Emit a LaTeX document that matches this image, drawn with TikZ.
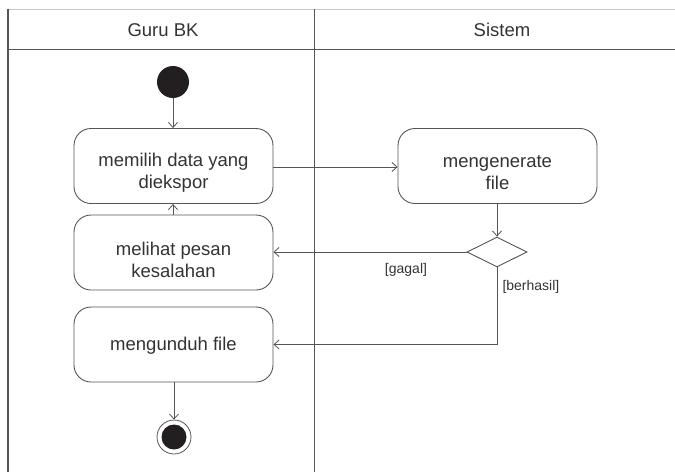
\documentclass[tikz,border=0pt]{standalone}
\usepackage{fontspec}
\setmainfont{Liberation Sans}
\usetikzlibrary{shapes.geometric,arrows.meta}
\definecolor{linegray}{HTML}{555555}
\definecolor{textgray}{HTML}{333333}
\definecolor{framegray}{HTML}{C8C8C8}
\definecolor{dotfill}{HTML}{231F20}
\begin{document}
\begin{tikzpicture}[x=1pt,y=-1pt,
  every node/.style={text=textgray},
  action/.style={draw=linegray, line width=0.9pt, rounded corners=17pt,
    minimum width=199pt, minimum height=75pt},
  actiontext/.style={align=center, inner sep=0pt,
    font=\fontsize{18.5}{22}\selectfont},
  lanetitle/.style={font=\fontsize{18.5}{21}\selectfont},
  guard/.style={font=\fontsize{14}{16}\selectfont},
  startdot/.style={circle, fill=dotfill, minimum size=32pt, inner sep=0pt},
  enddot/.style={circle, draw=linegray, line width=0.8pt, fill=white,
    minimum size=34pt, inner sep=0pt,
    path picture={\fill[dotfill] (path picture bounding box.center) circle (12.5pt);}},
  choice/.style={diamond, draw=linegray, line width=0.9pt, fill=white,
    minimum width=60pt, minimum height=30pt, inner sep=0pt},
  flow/.style={draw=linegray, line width=0.8pt,
    -{Straight Barb[length=5pt,width=9pt,line width=0.8pt]}},
]
\useasboundingbox (0,0) rectangle (675,472);

% swimlane frame
\draw[framegray, line width=0.8pt] (8,9) -- (675,9);
\draw[linegray, line width=1.4pt] (8,9) -- (8,472);
\draw[linegray, line width=0.9pt] (314,9) -- (314,472);
\draw[linegray, line width=1.2pt] (8,49.5) -- (675,49.5);
\node[lanetitle] (laneA) at (163,30) {Guru BK};
\node[lanetitle] (laneB) at (502,30) {Sistem};

% activities
\node[startdot] (start) at (173,82) {};
\node[action] (pick) at (173.5,166) {};
\node[actiontext] (pickText) at (173.5,173) {memilih data yang\\diekspor};
\node[action] (err) at (173.5,252.5) {};
\node[actiontext] (errText) at (173.5,259.5) {melihat pesan\\kesalahan};
\node[action] (dl) at (173.5,344.5) {};
\node[actiontext] (dlText) at (173.5,345.5) {mengunduh file};
\node[enddot] (stop) at (174,437) {};
\node[action] (gen) at (497.5,166) {};
\node[actiontext] (genText) at (497.5,173) {mengenerate\\file};
\node[choice] (dec) at (497,252) {};

% control flow
\draw[flow] (start) -- (start |- pick.north);
\draw[flow] (err.north -| start) -- (pick.south -| start);
\draw[flow] (pick.east |- 0,167) -- (gen.west |- 0,167);
\draw[flow] (gen.south -| dec) -- (dec.north);
\draw[flow] (dec.west) -- (err.east |- dec.west);
\node[guard] (lblFail) at (406,270) {[gagal]};
\draw[flow] (dec.south) -- (dec.south |- dl.east) -- (dl.east);
\node[guard, anchor=west] (lblOk) at (499,287) {[berhasil]};
\draw[flow] (dl.south -| stop) -- (stop.north);
\end{tikzpicture}
\end{document}
